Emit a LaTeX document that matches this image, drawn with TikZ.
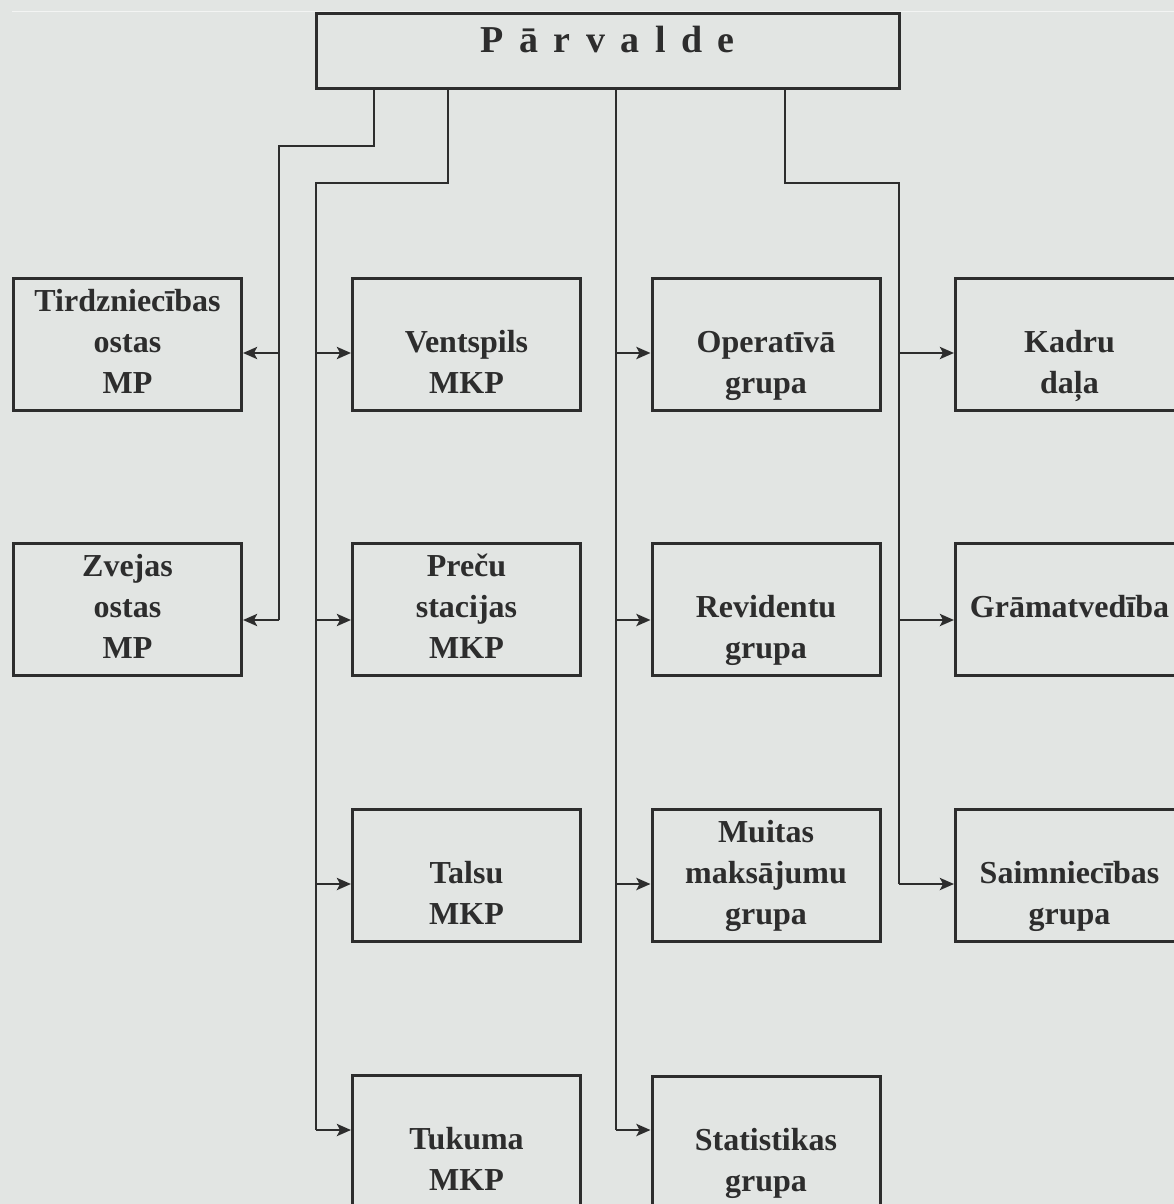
\documentclass[tikz,border=0pt]{standalone}
\usepackage{fontspec}
\setmainfont{Liberation Serif}
\usetikzlibrary{arrows.meta}
\definecolor{bg}{RGB}{226,229,227}
\definecolor{lc}{RGB}{45,45,45}
\definecolor{tc}{RGB}{45,45,45}
\newcommand{\bxfont}{\bfseries\fontsize{32}{41}\selectfont}
\newcommand{\ttlfont}{\bfseries\fontsize{38}{46}\selectfont}
\newcommand{\lsp}{\hspace{15.5pt}}
\tikzset{
  x=1pt, y=-1pt,
  box/.style={draw=lc, line width=3pt, minimum width=228pt, minimum height=132pt,
    inner sep=0pt, align=center, font=\bxfont, text=tc},
  topbox/.style={draw=lc, line width=3pt, minimum width=583pt, minimum height=75pt,
    inner sep=0pt, align=center, font=\ttlfont, text=tc},
  bus/.style={draw=lc, line width=2.8pt, line join=miter},
  arr/.style={draw=lc, line width=2.8pt, -{Stealth[length=14pt,width=12pt,inset=3pt]}}
}
\begin{document}
\begin{tikzpicture}
\useasboundingbox (0,0) rectangle (1174,1204);
\clip (0,0) rectangle (1174,1204);
\fill[bg] (0,0) rectangle (1174,1204);
\draw[white, opacity=0.6, line width=1pt] (12,12) -- (1174,12);

% top box
\node[topbox] (top) at (607.5,51.5) {\strut\raisebox{8pt}[0pt][0pt]{P\lsp ā\lsp r\lsp v\lsp a\lsp l\lsp d\lsp e}};

% column 1
\node[box] (tird) at (127.5,344) {\strut Tirdzniecības\\\strut ostas\\\strut MP};
\node[box] (zvej) at (127.5,609) {\strut Zvejas\\\strut ostas\\\strut MP};
% column 2
\node[box] (vent) at (466.5,344) {\strut\\\strut Ventspils\\\strut MKP};
\node[box] (prec) at (466.5,609) {\strut Preču\\\strut stacijas\\\strut MKP};
\node[box] (tals) at (466.5,875) {\strut\\\strut Talsu\\\strut MKP};
\node[box] (tuku) at (466.5,1141) {\strut\\\strut Tukuma\\\strut MKP};
% column 3
\node[box] (oper) at (766,344) {\strut\\\strut Operatīvā\\\strut grupa};
\node[box] (revi) at (766,609) {\strut\\\strut Revidentu\\\strut grupa};
\node[box] (muit) at (766,875) {\strut Muitas\\\strut maksājumu\\\strut grupa};
\node[box] (stat) at (766,1142) {\strut\\\strut Statistikas\\\strut grupa};
% column 4
\node[box] (kadr) at (1069.5,344) {\strut\\\strut Kadru\\\strut daļa};
\node[box] (gram) at (1069.5,609) {\strut\\\strut Grāmatvedība\\\strut};
\node[box] (saim) at (1069.5,875) {\strut\\\strut Saimniecības\\\strut grupa};

% junction coordinates
\coordinate (k1) at (374,146);
\coordinate (k2) at (448,183);
\coordinate (k4) at (785,183);
\coordinate (j1a) at (279,353);
\coordinate (j1b) at (279,620);
\coordinate (j2a) at (316,353);
\coordinate (j2b) at (316,620);
\coordinate (j2c) at (316,884);
\coordinate (j2d) at (316,1130);
\coordinate (j3a) at (616,353);
\coordinate (j3b) at (616,620);
\coordinate (j3c) at (616,884);
\coordinate (j3d) at (616,1130);
\coordinate (j4a) at (899,353);
\coordinate (j4b) at (899,620);
\coordinate (j4c) at (899,884);

% buses
\draw[bus] (top.south -| k1) -- (k1) -| (j1b);
\draw[bus] (top.south -| k2) -- (k2) -| (j2d);
\draw[bus] (top.south -| j3d) -- (j3d);
\draw[bus] (top.south -| k4) -- (k4) -| (j4c);

% arrows
\draw[arr] (j1a) -- (j1a -| tird.east);
\draw[arr] (j1b) -- (j1b -| zvej.east);
\draw[arr] (j2a) -- (j2a -| vent.west);
\draw[arr] (j2b) -- (j2b -| prec.west);
\draw[arr] (j2c) -- (j2c -| tals.west);
\draw[arr] (j2d) -- (j2d -| tuku.west);
\draw[arr] (j3a) -- (j3a -| oper.west);
\draw[arr] (j3b) -- (j3b -| revi.west);
\draw[arr] (j3c) -- (j3c -| muit.west);
\draw[arr] (j3d) -- (j3d -| stat.west);
\draw[arr] (j4a) -- (j4a -| kadr.west);
\draw[arr] (j4b) -- (j4b -| gram.west);
\draw[arr] (j4c) -- (j4c -| saim.west);
\end{tikzpicture}
\end{document}
